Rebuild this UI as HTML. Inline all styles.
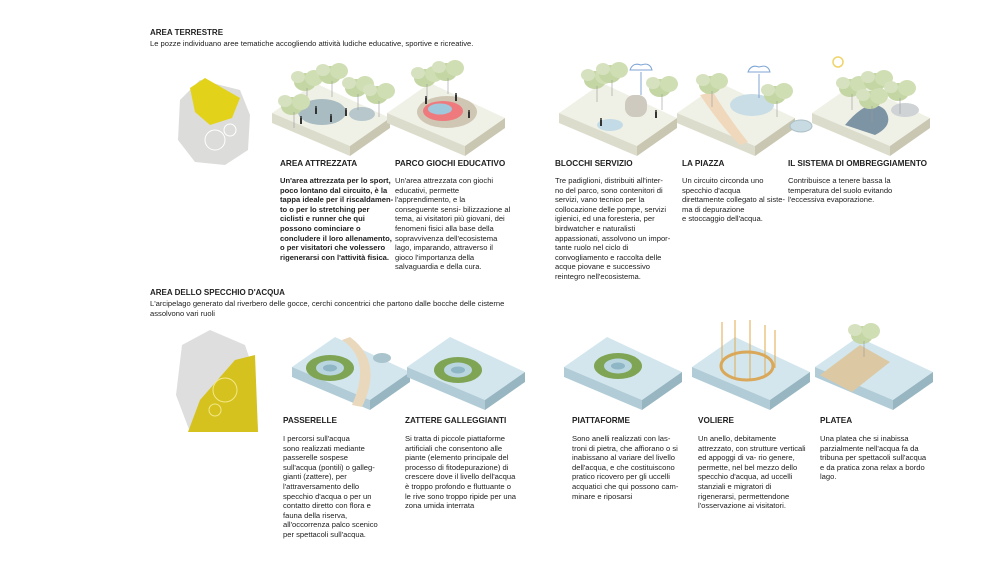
<!DOCTYPE html>
<html><head><meta charset="utf-8"><style>
body{margin:0;width:1000px;height:563px;background:#fff;position:relative;overflow:hidden;font-family:"Liberation Sans",sans-serif;color:#222}
.a{position:absolute;font-size:7.6px;line-height:9.6px}
.h{font-weight:bold;font-size:8px}
.t{position:absolute;font-weight:bold;font-size:8.2px}
svg{position:absolute;left:0;top:0}
</style></head><body>
<svg width="1000" height="563">
<defs>
<g id="slab"><polygon points="-58,-5 -15,-35 60,0 20,28" fill="#f0f1e6"/><polygon points="-58,-5 20,28 20,38 -58,5" fill="#dcdccc"/><polygon points="20,28 60,0 60,10 20,38" fill="#c9c6b2"/></g>
<g id="wslab"><polygon points="-58,-5 -15,-35 60,0 20,28" fill="#d3e6ed"/><polygon points="-58,-5 20,28 20,38 -58,5" fill="#b1ccd6"/><polygon points="20,28 60,0 60,10 20,38" fill="#97b6c1"/></g>
<g id="tree"><ellipse cx="0" cy="0" rx="11" ry="9" fill="#c4d6a4"/><ellipse cx="9" cy="-4" rx="9" ry="8" fill="#d0deb4"/><ellipse cx="-7" cy="-5" rx="7" ry="6" fill="#d6e2bf"/><line x1="2" y1="6" x2="2" y2="22" stroke="#999" stroke-width=".6"/></g>
<g id="ring"><ellipse cx="0" cy="0" rx="24" ry="13" fill="#7ea454"/><ellipse cx="0" cy="0" rx="14" ry="7.5" fill="#b9d6e0"/><ellipse cx="0" cy="0" rx="7" ry="3.5" fill="#8fb6c4"/></g>
<g id="p"><rect x="0" y="0" width="2" height="6" fill="#333"/><circle cx="1" cy="-1" r="1" fill="#333"/></g>
</defs>
<!-- maps -->
<polygon points="180,100 200,80 240,90 250,115 248,150 225,165 195,162 178,140" fill="#dcdcda"/>
<polygon points="190,88 205,78 240,98 232,118 210,125 195,112" fill="#e3d21a"/>
<circle cx="215" cy="140" r="10" fill="none" stroke="#fff"/><circle cx="230" cy="130" r="6" fill="none" stroke="#fff"/>
<polygon points="182,345 210,330 245,345 255,375 258,430 190,432 176,395" fill="#dedede"/>
<polygon points="200,400 235,360 255,355 258,432 188,432" fill="#d5c21e"/>
<circle cx="225" cy="390" r="12" fill="none" stroke="#f3e88a"/><circle cx="215" cy="410" r="6" fill="none" stroke="#f3e88a"/>
<!-- top slabs -->
<use href="#slab" x="330" y="118"/>
<ellipse cx="322" cy="112" rx="24" ry="13" fill="#a8bcc2"/><ellipse cx="362" cy="114" rx="13" ry="7" fill="#b7c7cc"/>
<use href="#tree" x="305" y="82"/><use href="#tree" x="330" y="75"/><use href="#tree" x="356" y="88"/><use href="#tree" x="377" y="95"/><use href="#tree" x="292" y="106"/>
<use href="#p" x="300" y="118"/><use href="#p" x="315" y="108"/><use href="#p" x="330" y="116"/><use href="#p" x="345" y="110"/>
<use href="#slab" x="445" y="118"/>
<ellipse cx="447" cy="112" rx="30" ry="16" fill="#cfc7b4"/><ellipse cx="443" cy="111" rx="20" ry="10" fill="#ef7a7e"/><ellipse cx="440" cy="109" rx="12" ry="5.5" fill="#9fc8dc"/>
<use href="#tree" x="425" y="78"/><use href="#tree" x="446" y="72"/>
<use href="#p" x="425" y="98"/><use href="#p" x="455" y="95"/><use href="#p" x="468" y="112"/>
<use href="#slab" x="617" y="118"/>
<use href="#tree" x="595" y="80"/><use href="#tree" x="610" y="74"/><use href="#tree" x="660" y="88"/>
<rect x="625" y="95" width="22" height="22" rx="9" fill="#cfcac0"/><ellipse cx="610" cy="125" rx="13" ry="6" fill="#c3dbe6"/>
<path d="M630 70 q3 -8 11 -5 q9 -3 11 5 z" fill="none" stroke="#7fa6d6"/><line x1="641" y1="72" x2="641" y2="95" stroke="#7fa6d6"/>
<use href="#p" x="600" y="120"/><use href="#p" x="655" y="112"/>
<use href="#slab" x="735" y="118"/>
<path d="M700 95 q20 30 40 50 l8 -3 q-20 -25 -35 -50z" fill="#f0d8bd"/>
<ellipse cx="752" cy="105" rx="22" ry="11" fill="#c9dde6"/>
<use href="#tree" x="710" y="85"/><use href="#tree" x="775" y="95"/>
<path d="M748 72 q3 -8 11 -5 q9 -3 11 5 z" fill="none" stroke="#7fa6d6"/><line x1="759" y1="74" x2="759" y2="98" stroke="#7fa6d6"/>
<ellipse cx="801" cy="126" rx="11" ry="6" fill="#c9dbe2" stroke="#aabfc6"/>
<use href="#slab" x="870" y="118"/>
<path d="M845 125 q25 -30 40 -15 q10 15 -10 25z" fill="#7d94a4"/><ellipse cx="905" cy="110" rx="14" ry="7" fill="#cfd3d6"/>
<use href="#tree" x="850" y="88"/><use href="#tree" x="875" y="82"/><use href="#tree" x="898" y="92"/><use href="#tree" x="870" y="100"/>
<circle cx="838" cy="62" r="5" fill="none" stroke="#f0d46a" stroke-width="1.5"/>
<!-- bottom slabs -->
<use href="#wslab" x="350" y="372"/><use href="#ring" x="330" y="368"/>
<path d="M342 340 q30 20 10 65 l10 2 q22 -45 -12 -70z" fill="#ead8bd"/><ellipse cx="382" cy="358" rx="9" ry="5" fill="#a9c4cc"/>
<use href="#wslab" x="465" y="372"/><use href="#ring" x="458" y="370"/>
<use href="#wslab" x="622" y="372"/><use href="#ring" x="618" y="366"/>
<use href="#wslab" x="750" y="372"/><ellipse cx="747" cy="366" rx="26" ry="14" fill="none" stroke="#d9a85a" stroke-width="3"/>
<g stroke="#e0a94e" stroke-width="1"><line x1="722" y1="372" x2="722" y2="322"/><line x1="735" y1="378" x2="735" y2="320"/><line x1="750" y1="380" x2="750" y2="320"/><line x1="765" y1="375" x2="765" y2="325"/><line x1="775" y1="368" x2="775" y2="330"/></g>
<use href="#wslab" x="873" y="372"/><polygon points="820,375 860,345 890,362 852,392" fill="#dcc9a4"/><use href="#tree" x="862" y="335"/>
</svg>
<div class="a h" style="left:150px;top:28px">AREA TERRESTRE</div>
<div class="a" style="left:150px;top:39px">Le pozze individuano aree tematiche accogliendo attività ludiche educative, sportive e ricreative.</div>
<div class="t" style="left:280px;top:159px">AREA ATTREZZATA</div>
<div class="t" style="left:395px;top:159px">PARCO GIOCHI EDUCATIVO</div>
<div class="t" style="left:555px;top:159px">BLOCCHI SERVIZIO</div>
<div class="t" style="left:682px;top:159px">LA PIAZZA</div>
<div class="t" style="left:788px;top:159px">IL SISTEMA DI OMBREGGIAMENTO</div>
<div class="a" style="left:280px;top:176px;font-weight:bold;width:120px">Un'area attrezzata per lo sport,<br>poco lontano dal circuito, è la<br>tappa ideale per il riscaldamen-<br>to o per lo stretching per<br>ciclisti e runner che qui<br>possono cominciare o<br>concludere il loro allenamento,<br>o per visitatori che volessero<br>rigenerarsi con l'attività fisica.</div>
<div class="a" style="left:395px;top:176px">Un'area attrezzata con giochi<br>educativi, permette<br>l'apprendimento, e la<br>conseguente sensi- bilizzazione al<br>tema, ai visitatori più giovani, dei<br>fenomeni fisici alla base della<br>sopravvivenza dell'ecosistema<br>lago, imparando, attraverso il<br>gioco l'importanza della<br>salvaguardia e della cura.</div>
<div class="a" style="left:555px;top:176px">Tre padiglioni, distribuiti all'inter-<br>no del parco, sono contenitori di<br>servizi, vano tecnico per la<br>collocazione delle pompe, servizi<br>igienici, ed una foresteria, per<br>birdwatcher e naturalisti<br>appassionati, assolvono un impor-<br>tante ruolo nel ciclo di<br>convogliamento e raccolta delle<br>acque piovane e successivo<br>reintegro nell'ecosistema.</div>
<div class="a" style="left:682px;top:176px">Un circuito circonda uno<br>specchio d'acqua<br>direttamente collegato al siste-<br>ma di depurazione<br>e stoccaggio dell'acqua.</div>
<div class="a" style="left:788px;top:176px">Contribuisce a tenere bassa la<br>temperatura del suolo evitando<br>l'eccessiva evaporazione.</div>
<div class="a h" style="left:150px;top:288px">AREA DELLO SPECCHIO D'ACQUA</div>
<div class="a" style="left:150px;top:299px">L'arcipelago generato dal riverbero delle gocce, cerchi concentrici che partono dalle bocche delle cisterne<br>assolvono vari ruoli</div>
<div class="t" style="left:283px;top:416px">PASSERELLE</div>
<div class="t" style="left:405px;top:416px">ZATTERE GALLEGGIANTI</div>
<div class="t" style="left:572px;top:416px">PIATTAFORME</div>
<div class="t" style="left:698px;top:416px">VOLIERE</div>
<div class="t" style="left:820px;top:416px">PLATEA</div>
<div class="a" style="left:283px;top:434px">I percorsi sull'acqua<br>sono realizzati mediante<br>passerelle sospese<br>sull'acqua (pontili) o galleg-<br>gianti (zattere), per<br>l'attraversamento dello<br>specchio d'acqua o per un<br>contatto diretto con flora e<br>fauna della riserva,<br>all'occorrenza palco scenico<br>per spettacoli sull'acqua.</div>
<div class="a" style="left:405px;top:434px">Si tratta di piccole piattaforme<br>artificiali che consentono alle<br>piante (elemento principale del<br>processo di fitodepurazione) di<br>crescere dove il livello dell'acqua<br>è troppo profondo e fluttuante o<br>le rive sono troppo ripide per una<br>zona umida interrata</div>
<div class="a" style="left:572px;top:434px">Sono anelli realizzati con las-<br>troni di pietra, che affiorano o si<br>inabissano al variare del livello<br>dell'acqua, e che costituiscono<br>pratico ricovero per gli uccelli<br>acquatici che qui possono cam-<br>minare e riposarsi</div>
<div class="a" style="left:698px;top:434px">Un anello, debitamente<br>attrezzato, con strutture verticali<br>ed appoggi di va- rio genere,<br>permette, nel bel mezzo dello<br>specchio d'acqua, ad uccelli<br>stanziali e migratori di<br>rigenerarsi, permettendone<br>l'osservazione ai visitatori.</div>
<div class="a" style="left:820px;top:434px">Una platea che si inabissa<br>parzialmente nell'acqua fa da<br>tribuna per spettacoli sull'acqua<br>e da pratica zona relax a bordo<br>lago.</div>
</body></html>
